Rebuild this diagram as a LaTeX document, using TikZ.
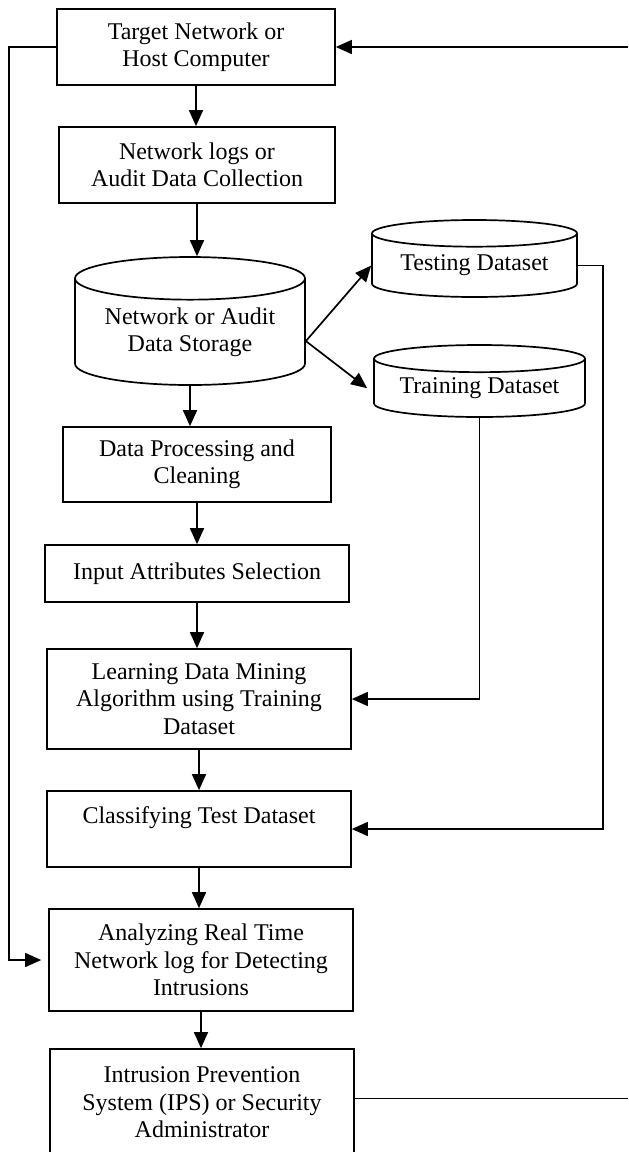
\documentclass[tikz,border=0pt]{standalone}
\usepackage{fontspec}
\setmainfont{Liberation Serif}
\usepackage{tikz}
\usetikzlibrary{shapes.geometric, arrows.meta, positioning, calc}

\tikzset{
    flowbox/.style={draw, line width=0.85pt, inner sep=0pt, align=center,
        font=\fontsize{12}{13.75}\selectfont},
    datastore/.style={flowbox, cylinder, shape border rotate=90, anchor=shape center},
    flowarrow/.style={line width=0.85pt, -{Triangle[length=8pt, width=7pt]}},
    flowline/.style={line width=0.85pt}
}

\begin{document}
\begin{tikzpicture}[x=0.5pt, y=-0.5pt]
    \useasboundingbox (0,0) rectangle (628,1152);
    \clip (0,0) rectangle (628,1152);

    % Main column
    \node[flowbox, minimum width=139pt, minimum height=38pt] (target) at (196,47)
        {Target Network or\\Host Computer};
    \node[flowbox, minimum width=138pt, minimum height=38pt] (collect) at (197,165)
        {Network logs or\\Audit Data Collection};
    \node[datastore, minimum width=115pt, minimum height=64pt, aspect=0.25, inner ysep=-3pt] (storage) at (190,321)
        {Network or Audit\\Data Storage};
    \node[flowbox, minimum width=134pt, minimum height=37.5pt] (clean) at (197,464.5)
        {Data Processing and\\Cleaning};
    \node[flowbox, minimum width=152pt, minimum height=28.5pt] (select) at (197,573.5)
        {Input Attributes Selection};
    \node[flowbox, minimum width=152pt, minimum height=50pt] (learn) at (199,699)
        {Learning Data Mining\\Algorithm using Training\\Dataset};
    \node[flowbox, minimum width=152pt, minimum height=38pt] (classify) at (199,829)
        {Classifying Test Dataset\\\mbox{}};
    \node[flowbox, minimum width=152pt, minimum height=51pt] (analyze) at (201,960)
        {Analyzing Real Time\\Network log for Detecting\\Intrusions};
    \node[flowbox, minimum width=152pt, minimum height=53.5pt] (ips) at (202,1102.5)
        {Intrusion Prevention\\System (IPS) or Security\\Administrator};

    % Split datasets
    \node[datastore, minimum width=102.5pt, minimum height=38.5pt, aspect=0.18] (testing) at (474.5,258.5)
        {Testing Dataset};
    \node[datastore, minimum width=105.5pt, minimum height=36pt, aspect=0.17] (training) at (479.5,381)
        {Training Dataset};

    % Rails for the loop lines
    \coordinate (lrail) at (9,0);
    \coordinate (rrail) at (603,0);
    \coordinate (redge) at (628,0);

    % Top-down flow
    \foreach \a/\b in {target/collect, collect/storage, storage/clean, clean/select,
                       select/learn, learn/classify, classify/analyze, analyze/ips} {
        \draw[flowarrow] (\a.south) -- (\a.south |- \b.north);
    }

    % Storage feeds both datasets
    \draw[flowarrow] ([yshift=-4.5pt]storage.east) -- (testing.west);
    \draw[flowarrow] ([yshift=-4.5pt]storage.east) -- ([xshift=-3pt]training.west);

    % Datasets back into the main column
    \draw[flowarrow] (training.south) |- (learn.east);
    \draw[flowarrow] (testing.east) -- (testing.east -| rrail) |- (classify.east);

    % Loops at the sides
    \draw[flowarrow, shorten >=3.5pt] (target.west) -- (target.west -| lrail) |- (analyze.west);
    \draw[flowarrow] (target.east -| redge) -- (target.east);
    \draw[flowline] ([yshift=2pt]ips.east) -- ([yshift=2pt]ips.east -| redge);
\end{tikzpicture}
\end{document}
